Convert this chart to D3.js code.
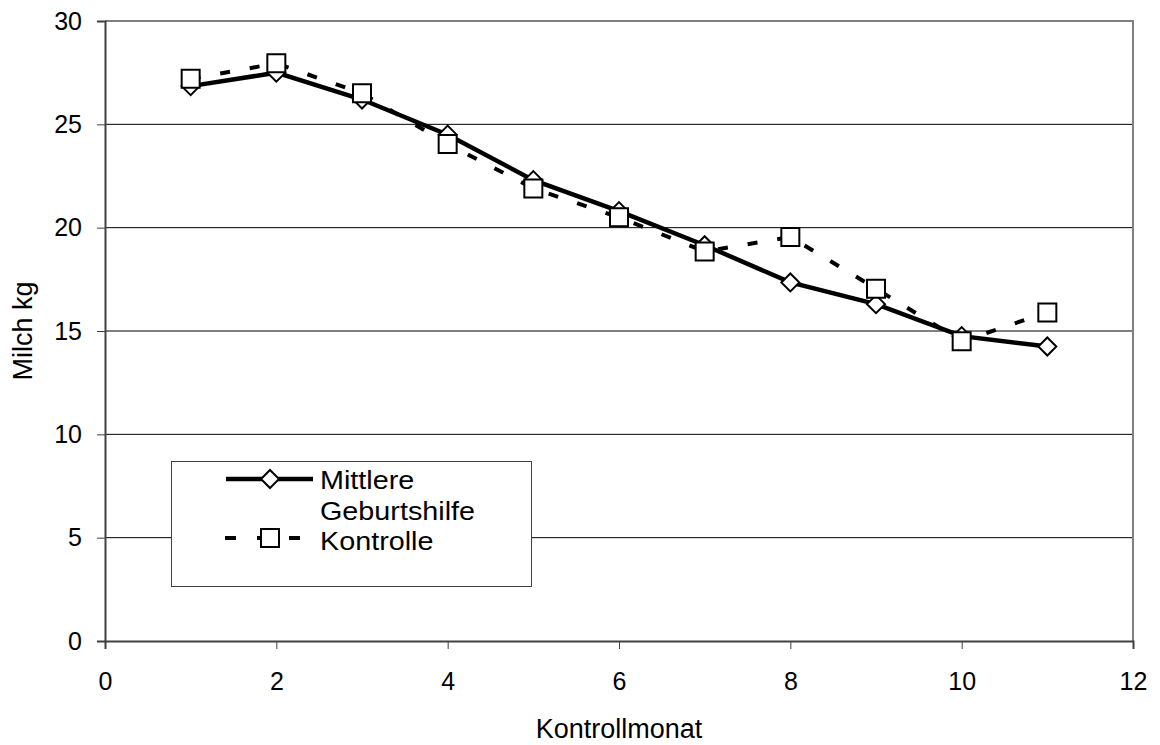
<!DOCTYPE html>
<html>
<head>
<meta charset="utf-8">
<script src="https://cdn.jsdelivr.net/npm/d3@7"></script>
<style>
  body { margin: 0; background: #fff; }
  svg { display: block; font-family: "Liberation Sans", Arial, sans-serif; }
</style>
</head>
<body>
<svg id="chart" width="1160" height="745"></svg>
<script>
// Monthly milk yield per control month
const months = [1, 2, 3, 4, 5, 6, 7, 8, 9, 10, 11];
const mittlere = [26.85, 27.5, 26.2, 24.5, 22.3, 20.8, 19.15, 17.35, 16.3, 14.75, 14.25];
const kontrolle = [27.2, 27.95, 26.5, 24.05, 21.9, 20.5, 18.85, 19.55, 17.05, 14.5, 15.9];
const xTicks = [0, 2, 4, 6, 8, 10, 12];
const yTicks = [0, 5, 10, 15, 20, 25, 30];
const seriesNames = [["Mittlere", "Geburtshilfe"], ["Kontrolle"]];

const svg = d3.select("#chart");
const m = { left: 105, right: 1133, top: 21, bottom: 641 };

const x = d3.scaleLinear().domain([0, 12]).range([m.left, m.right]);
const y = d3.scaleLinear().domain([0, 30]).range([m.bottom, m.top]);

// horizontal gridlines
svg.append("g")
  .selectAll("line")
  .data(yTicks.filter(t => t > 0 && t < 30))
  .join("line")
  .attr("x1", m.left).attr("x2", m.right)
  .attr("y1", d => y(d)).attr("y2", d => y(d))
  .attr("stroke", "#000").attr("stroke-width", 1);

// plot frame (top and right)
svg.append("path")
  .attr("d", `M${m.left},${m.top}H${m.right}V${m.bottom}`)
  .attr("fill", "none").attr("stroke", "#808080").attr("stroke-width", 2);

// axes
const yAxis = d3.axisLeft(y).tickValues(yTicks).tickSize(8).tickPadding(15);
const xAxis = d3.axisBottom(x).tickValues(xTicks).tickSize(8).tickPadding(23);

const gy = svg.append("g").attr("transform", `translate(${m.left},0)`).call(yAxis);
const gx = svg.append("g").attr("transform", `translate(0,${m.bottom})`).call(xAxis);
[gx, gy].forEach(g => {
  g.select(".domain").attr("stroke", "#404040").attr("stroke-width", 2);
  g.selectAll(".tick line").attr("stroke", "#404040").attr("stroke-width", 1);
  g.selectAll(".tick text").attr("font-size", 25).attr("fill", "#000")
    .attr("font-family", "'Liberation Sans', Arial, sans-serif");
});

// axis titles
svg.append("text")
  .attr("x", (m.left + m.right) / 2).attr("y", 738)
  .attr("text-anchor", "middle").attr("font-size", 27)
  .text("Kontrollmonat");
svg.append("text")
  .attr("transform", `translate(32,${(m.top + m.bottom) / 2}) rotate(-90)`)
  .attr("text-anchor", "middle").attr("font-size", 27)
  .text("Milch kg");

const line = d3.line().x((d, i) => x(months[i])).y(d => y(d));

// Kontrolle: dashed line with square markers
svg.append("path")
  .datum(kontrolle)
  .attr("d", line)
  .attr("fill", "none").attr("stroke", "#000").attr("stroke-width", 4)
  .attr("stroke-dasharray", "10,20");

// Mittlere Geburtshilfe: solid line with diamond markers
svg.append("path")
  .datum(mittlere)
  .attr("d", line)
  .attr("fill", "none").attr("stroke", "#000").attr("stroke-width", 4.5);

const diamond = s => `M0,${-s}L${s},0L0,${s}L${-s},0Z`;
const square = s => `M${-s},${-s}H${s}V${s}H${-s}Z`;

svg.append("g")
  .selectAll("path")
  .data(mittlere)
  .join("path")
  .attr("transform", (d, i) => `translate(${x(months[i])},${y(d)})`)
  .attr("d", diamond(9))
  .attr("fill", "#fff").attr("stroke", "#000").attr("stroke-width", 2);

svg.append("g")
  .selectAll("path")
  .data(kontrolle)
  .join("path")
  .attr("transform", (d, i) => `translate(${x(months[i])},${y(d)})`)
  .attr("d", square(9))
  .attr("fill", "#fff").attr("stroke", "#000").attr("stroke-width", 2);

// legend
const lg = svg.append("g");
lg.append("rect")
  .attr("x", 171.5).attr("y", 461.5).attr("width", 360).attr("height", 125)
  .attr("fill", "#fff").attr("stroke", "#404040").attr("stroke-width", 1);

lg.append("line")
  .attr("x1", 226).attr("x2", 313).attr("y1", 479).attr("y2", 479)
  .attr("stroke", "#000").attr("stroke-width", 4.5);
lg.append("path")
  .attr("transform", "translate(270,479)")
  .attr("d", diamond(9))
  .attr("fill", "#fff").attr("stroke", "#000").attr("stroke-width", 2);

lg.append("line")
  .attr("x1", 225).attr("x2", 316).attr("y1", 538).attr("y2", 538)
  .attr("stroke", "#000").attr("stroke-width", 4)
  .attr("stroke-dasharray", "11,21");
lg.append("path")
  .attr("transform", "translate(270,538)")
  .attr("d", square(9))
  .attr("fill", "#fff").attr("stroke", "#000").attr("stroke-width", 2);

// legend labels, set slightly wide
const legendLabels = [
  { text: seriesNames[0][0], y: 489 },
  { text: seriesNames[0][1], y: 520 },
  { text: seriesNames[1][0], y: 550 }
];
lg.append("g")
  .selectAll("text")
  .data(legendLabels)
  .join("text")
  .attr("transform", d => `translate(320,${d.y}) scale(1.15,1)`)
  .attr("font-size", 25)
  .text(d => d.text);
</script>
</body>
</html>
